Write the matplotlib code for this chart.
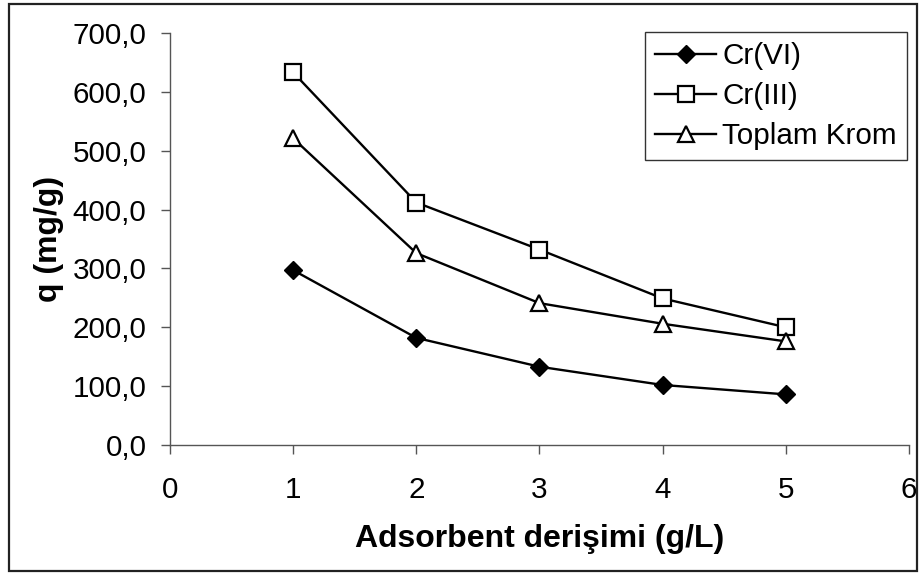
import numpy as np
import matplotlib
matplotlib.use('Agg')
import matplotlib.pyplot as plt
from matplotlib.patches import Rectangle

# adsorbent concentration (g/L)
dose = [1, 2, 3, 4, 5]

# q values (mg/g)
crVI = [297, 182, 133, 102, 86]
crIII = [633, 412, 332, 249, 200]
toplam = [521, 326, 241, 206, 176]

labels = ['Cr(VI)', 'Cr(III)', 'Toplam Krom']

xticks = [0, 1, 2, 3, 4, 5, 6]
yticks = [0, 100, 200, 300, 400, 500, 600, 700]

plt.rcParams['font.family'] = ['Liberation Sans', 'DejaVu Sans']

fig = plt.figure(figsize=(9.2, 5.74), dpi=100)
ax = fig.add_axes([170 / 920, 1 - 445 / 574, (909 - 170) / 920, (445 - 33) / 574])

# outer frame like the Excel chart area
fig.patches.append(Rectangle((9 / 920, 3 / 574), 908 / 920, 567 / 574,
                             transform=fig.transFigure, fill=False,
                             edgecolor='#222222', linewidth=1.6))

ax.plot(dose, crVI, color='black', lw=1.7, marker='D', ms=9,
        mfc='black', mec='black', label=labels[0])
ax.plot(dose, crIII, color='black', lw=1.7, marker='s', ms=12,
        mfc='white', mec='black', mew=1.6, label=labels[1])
ax.plot(dose, toplam, color='black', lw=1.7, marker='^', ms=12,
        mfc='white', mec='black', mew=1.6, label=labels[2])

ax.set_xlim(0, 6)
ax.set_ylim(0, 700)
ax.set_xticks(xticks)
ax.set_yticks(yticks)
ax.set_yticklabels([('%.1f' % v).replace('.', ',') for v in yticks])

for s in ['top', 'right']:
    ax.spines[s].set_visible(False)
for s in ['left', 'bottom']:
    ax.spines[s].set_color('#555555')
    ax.spines[s].set_linewidth(1.0)

ax.tick_params(axis='both', direction='out', length=6.5, width=1.0,
               color='#555555', labelsize=21.3)
ax.tick_params(axis='y', pad=10.5)
ax.tick_params(axis='x', pad=16)

ax.set_xlabel('Adsorbent derişimi (g/L)', fontsize=23, fontweight='bold', labelpad=14)
ax.set_ylabel('q (mg/g)', fontsize=23, fontweight='bold', labelpad=6)

leg = ax.legend(loc='upper right', bbox_to_anchor=(907 / 920, 1 - 32 / 574),
                bbox_transform=fig.transFigure, fontsize=21.3, frameon=True,
                fancybox=False, edgecolor='black', borderpad=0.35,
                handlelength=2.05, handletextpad=0.2, labelspacing=0.4,
                borderaxespad=0)
leg.get_frame().set_linewidth(1.0)

fig.savefig('out.png', dpi=100)
